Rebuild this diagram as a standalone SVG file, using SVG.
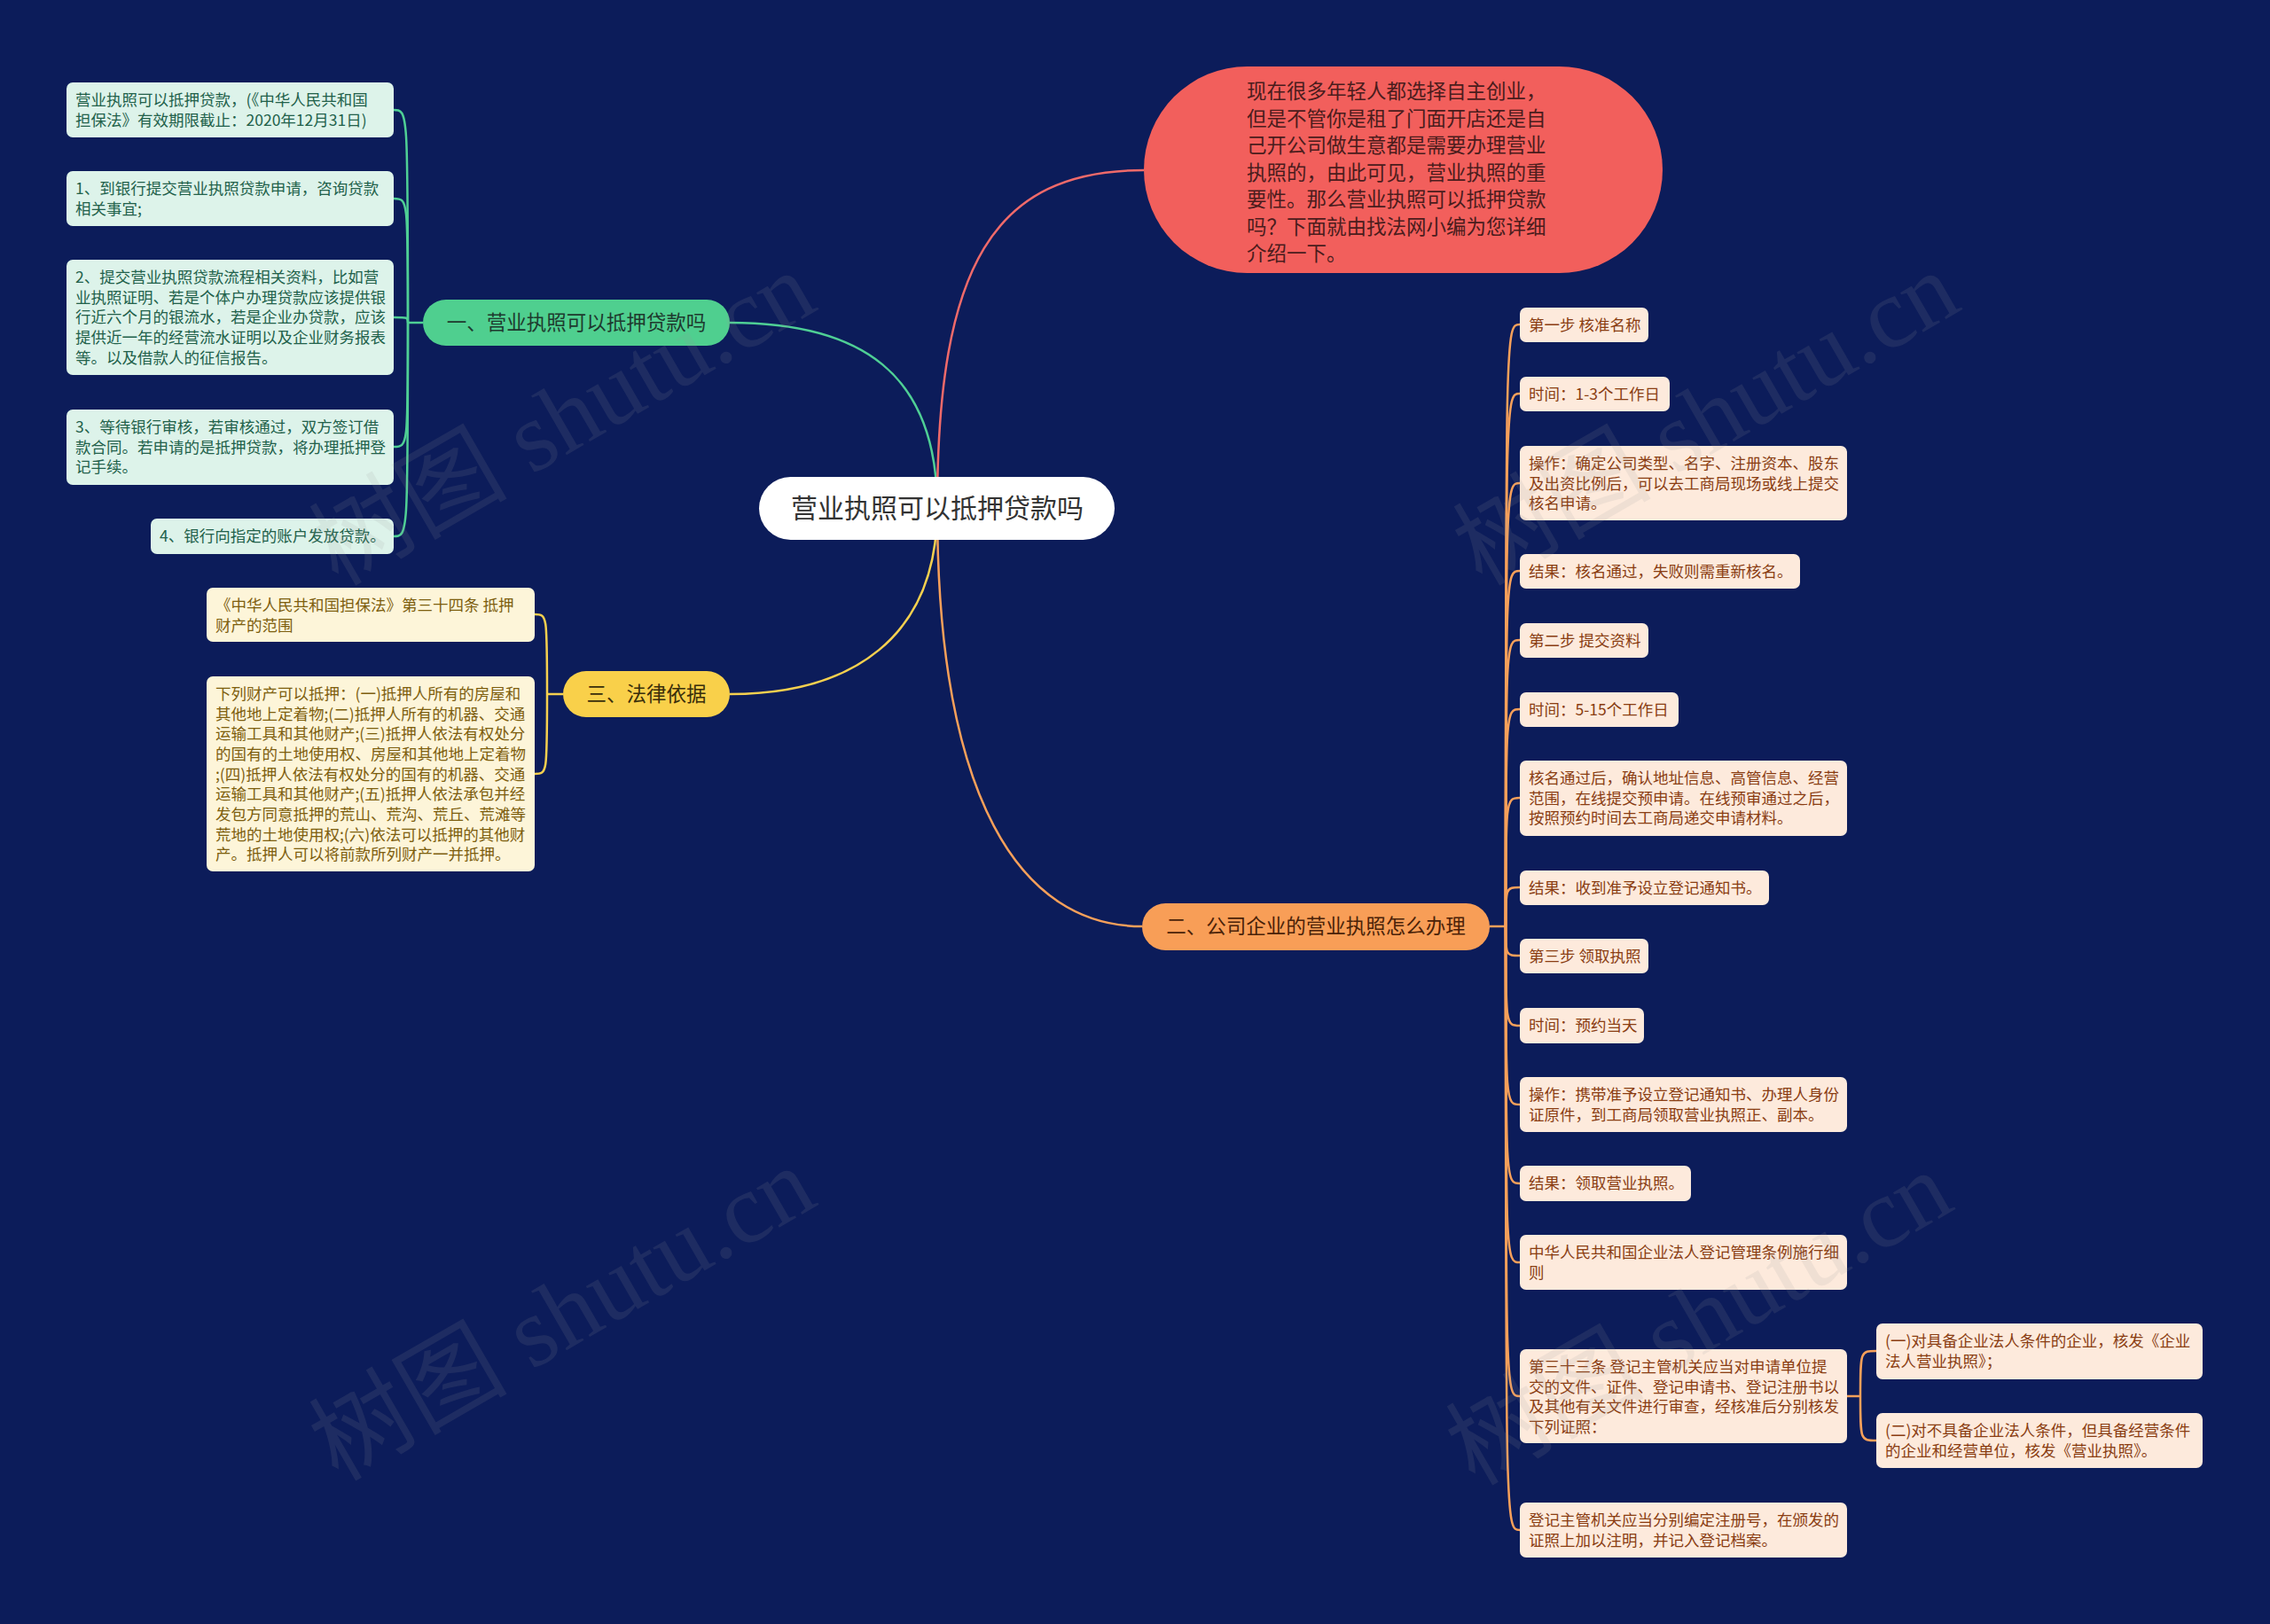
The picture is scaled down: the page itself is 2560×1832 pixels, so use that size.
<svg xmlns="http://www.w3.org/2000/svg" width="2560" height="1832" viewBox="0 0 2560 1832">
<style>
text{font-family:"Noto Sans CJK SC","Noto Sans",sans-serif}
.lf{font-size:17.5px}
.g rect{fill:#ddf3ea}
.g text{fill:#22614a}
.y rect{fill:#fdf5d9}
.y text{fill:#7d5e0e}
.o rect{fill:#fdeadc}
.o text{fill:#8a3d12}
.br{font-size:22.5px;text-anchor:middle}
.cg{fill:none;stroke:#4fcf95;stroke-width:2.5}
.cy{fill:none;stroke:#f5d04f;stroke-width:2.5}
.co{fill:none;stroke:#f7a05a;stroke-width:2.5}
.cr{fill:none;stroke:#f06a6a;stroke-width:2.5}
.wm{font-family:"Liberation Serif","Noto Sans CJK SC",serif;font-size:112px;fill:#9a9a9a;opacity:0.13}
</style>
<rect width="2560" height="1832" fill="#0c1c5a"/>
<g id="connectors">
<path class="cg" d="M1057,573 C1057,420 970,364 823,364"/>
<path class="cr" d="M1057,573 C1057,300 1120,192 1290,192"/>
<path class="cy" d="M1057,573 C1057,720 960,783 823,783"/>
<path class="co" d="M1057,573 C1057,900 1150,1045 1288,1045"/>
<path class="cg" d="M477,364 L460,364"/>
<path class="cg" d="M460,364 C460,124 460,124 444,124"/>
<path class="cg" d="M460,364 C460,224 460,224 444,224"/>
<path class="cg" d="M460,364 C460,358 460,358 444,358"/>
<path class="cg" d="M460,364 C460,504 460,504 444,504"/>
<path class="cg" d="M460,364 C460,605 460,605 444,605"/>
<path class="cy" d="M635,783 L617,783"/>
<path class="cy" d="M617,783 C617,693 617,693 603,693"/>
<path class="cy" d="M617,783 C617,873 617,873 603,873"/>
<path class="co" d="M1680,1045 L1698,1045"/>
<path class="co" d="M1698,1045 C1698,366 1698,366 1714,366"/>
<path class="co" d="M1698,1045 C1698,444 1698,444 1714,444"/>
<path class="co" d="M1698,1045 C1698,545 1698,545 1714,545"/>
<path class="co" d="M1698,1045 C1698,644 1698,644 1714,644"/>
<path class="co" d="M1698,1045 C1698,722 1698,722 1714,722"/>
<path class="co" d="M1698,1045 C1698,800 1698,800 1714,800"/>
<path class="co" d="M1698,1045 C1698,900 1698,900 1714,900"/>
<path class="co" d="M1698,1045 C1698,1001 1698,1001 1714,1001"/>
<path class="co" d="M1698,1045 C1698,1078 1698,1078 1714,1078"/>
<path class="co" d="M1698,1045 C1698,1157 1698,1157 1714,1157"/>
<path class="co" d="M1698,1045 C1698,1246 1698,1246 1714,1246"/>
<path class="co" d="M1698,1045 C1698,1335 1698,1335 1714,1335"/>
<path class="co" d="M1698,1045 C1698,1424 1698,1424 1714,1424"/>
<path class="co" d="M1698,1045 C1698,1575 1698,1575 1714,1575"/>
<path class="co" d="M1698,1045 C1698,1726 1698,1726 1714,1726"/>
<path class="co" d="M2083,1575 L2098,1575"/>
<path class="co" d="M2098,1575 C2098,1524 2098,1524 2116,1524"/>
<path class="co" d="M2098,1575 C2098,1625 2098,1625 2116,1625"/>
</g>
<g id="root">
<rect x="856" y="538" width="401" height="71" rx="35.5" fill="#ffffff"/>
<text x="1057" y="584" font-size="30" text-anchor="middle" fill="#333333">营业执照可以抵押贷款吗</text>
</g>
<g id="intro">
<rect x="1290" y="75" width="585" height="233" rx="116.5" fill="#f25f5c"/>
<text font-size="22.5" fill="#4a1c1c">
<tspan x="1406" y="111">现在很多年轻人都选择自主创业，</tspan>
<tspan x="1406" y="141.5">但是不管你是租了门面开店还是自</tspan>
<tspan x="1406" y="172">己开公司做生意都是需要办理营业</tspan>
<tspan x="1406" y="202.5">执照的，由此可见，营业执照的重</tspan>
<tspan x="1406" y="233">要性。那么营业执照可以抵押贷款</tspan>
<tspan x="1406" y="263.5">吗？下面就由找法网小编为您详细</tspan>
<tspan x="1406" y="294">介绍一下。</tspan>
</text>
</g>
<g id="branch1">
<rect x="477" y="338" width="346" height="52" rx="26" fill="#4fcf8f"/>
<text class="br" x="650" y="372" fill="#1e3a2e">一、营业执照可以抵押贷款吗</text>
</g>
<g id="branch3">
<rect x="635" y="757" width="188" height="52" rx="26" fill="#f9d04a"/>
<text class="br" x="729" y="791" fill="#3a2e0a">三、法律依据</text>
</g>
<g id="branch2">
<rect x="1288" y="1019" width="392" height="53" rx="26.5" fill="#f89e57"/>
<text class="br" x="1484" y="1053" fill="#4a2208">二、公司企业的营业执照怎么办理</text>
</g>
<g id="g1" class="g"><rect x="75" y="93" width="369" height="62" rx="7"/><text class="lf"><tspan x="85" y="119">营业执照可以抵押贷款，(《中华人民共和国</tspan><tspan x="85" y="142">担保法》有效期限截止：2020年12月31日)</tspan></text></g>
<g id="g2" class="g"><rect x="75" y="193" width="369" height="62" rx="7"/><text class="lf"><tspan x="85" y="219">1、到银行提交营业执照贷款申请，咨询贷款</tspan><tspan x="85" y="242">相关事宜;</tspan></text></g>
<g id="g3" class="g"><rect x="75" y="293" width="369" height="130" rx="7"/><text class="lf"><tspan x="85" y="319">2、提交营业执照贷款流程相关资料，比如营</tspan><tspan x="85" y="342">业执照证明、若是个体户办理贷款应该提供银</tspan><tspan x="85" y="364">行近六个月的银流水，若是企业办贷款，应该</tspan><tspan x="85" y="387">提供近一年的经营流水证明以及企业财务报表</tspan><tspan x="85" y="410">等。以及借款人的征信报告。</tspan></text></g>
<g id="g4" class="g"><rect x="75" y="462" width="369" height="85" rx="7"/><text class="lf"><tspan x="85" y="488">3、等待银行审核，若审核通过，双方签订借</tspan><tspan x="85" y="511">款合同。若申请的是抵押贷款，将办理抵押登</tspan><tspan x="85" y="533">记手续。</tspan></text></g>
<g id="g5" class="g"><rect x="170" y="585" width="274" height="40" rx="7"/><text class="lf" x="180" y="611">4、银行向指定的账户发放贷款。</text></g>
<g id="y1" class="y"><rect x="233" y="663" width="370" height="61" rx="7"/><text class="lf"><tspan x="243" y="689">《中华人民共和国担保法》第三十四条 抵押</tspan><tspan x="243" y="712">财产的范围</tspan></text></g>
<g id="y2" class="y"><rect x="233" y="763" width="370" height="220" rx="7"/><text class="lf"><tspan x="243" y="789">下列财产可以抵押：(一)抵押人所有的房屋和</tspan><tspan x="243" y="812">其他地上定着物;(二)抵押人所有的机器、交通</tspan><tspan x="243" y="834">运输工具和其他财产;(三)抵押人依法有权处分</tspan><tspan x="243" y="857">的国有的土地使用权、房屋和其他地上定着物</tspan><tspan x="243" y="880">;(四)抵押人依法有权处分的国有的机器、交通</tspan><tspan x="243" y="902">运输工具和其他财产;(五)抵押人依法承包并经</tspan><tspan x="243" y="925">发包方同意抵押的荒山、荒沟、荒丘、荒滩等</tspan><tspan x="243" y="948">荒地的土地使用权;(六)依法可以抵押的其他财</tspan><tspan x="243" y="970">产。抵押人可以将前款所列财产一并抵押。</tspan></text></g>
<g id="o1" class="o"><rect x="1714" y="347" width="145" height="39" rx="7"/><text class="lf" x="1724" y="373">第一步 核准名称</text></g>
<g id="o2" class="o"><rect x="1714" y="425" width="169" height="39" rx="7"/><text class="lf" x="1724" y="451">时间：1-3个工作日</text></g>
<g id="o3" class="o"><rect x="1714" y="503" width="369" height="84" rx="7"/><text class="lf"><tspan x="1724" y="529">操作：确定公司类型、名字、注册资本、股东</tspan><tspan x="1724" y="552">及出资比例后，可以去工商局现场或线上提交</tspan><tspan x="1724" y="574">核名申请。</tspan></text></g>
<g id="o4" class="o"><rect x="1714" y="625" width="316" height="39" rx="7"/><text class="lf" x="1724" y="651">结果：核名通过，失败则需重新核名。</text></g>
<g id="o5" class="o"><rect x="1714" y="703" width="145" height="39" rx="7"/><text class="lf" x="1724" y="729">第二步 提交资料</text></g>
<g id="o6" class="o"><rect x="1714" y="781" width="179" height="39" rx="7"/><text class="lf" x="1724" y="807">时间：5-15个工作日</text></g>
<g id="o7" class="o"><rect x="1714" y="858" width="369" height="85" rx="7"/><text class="lf"><tspan x="1724" y="884">核名通过后，确认地址信息、高管信息、经营</tspan><tspan x="1724" y="907">范围，在线提交预申请。在线预审通过之后，</tspan><tspan x="1724" y="929">按照预约时间去工商局递交申请材料。</tspan></text></g>
<g id="o8" class="o"><rect x="1714" y="982" width="281" height="39" rx="7"/><text class="lf" x="1724" y="1008">结果：收到准予设立登记通知书。</text></g>
<g id="o9" class="o"><rect x="1714" y="1059" width="145" height="39" rx="7"/><text class="lf" x="1724" y="1085">第三步 领取执照</text></g>
<g id="o10" class="o"><rect x="1714" y="1137" width="140" height="40" rx="7"/><text class="lf" x="1724" y="1163">时间：预约当天</text></g>
<g id="o11" class="o"><rect x="1714" y="1215" width="369" height="62" rx="7"/><text class="lf"><tspan x="1724" y="1241">操作：携带准予设立登记通知书、办理人身份</tspan><tspan x="1724" y="1264">证原件，到工商局领取营业执照正、副本。</tspan></text></g>
<g id="o12" class="o"><rect x="1714" y="1315" width="193" height="40" rx="7"/><text class="lf" x="1724" y="1341">结果：领取营业执照。</text></g>
<g id="o13" class="o"><rect x="1714" y="1393" width="369" height="62" rx="7"/><text class="lf"><tspan x="1724" y="1419">中华人民共和国企业法人登记管理条例施行细</tspan><tspan x="1724" y="1442">则</tspan></text></g>
<g id="o14" class="o"><rect x="1714" y="1522" width="369" height="106" rx="7"/><text class="lf"><tspan x="1724" y="1548">第三十三条 登记主管机关应当对申请单位提</tspan><tspan x="1724" y="1571">交的文件、证件、登记申请书、登记注册书以</tspan><tspan x="1724" y="1593">及其他有关文件进行审查，经核准后分别核发</tspan><tspan x="1724" y="1616">下列证照：</tspan></text></g>
<g id="o15" class="o"><rect x="1714" y="1695" width="369" height="62" rx="7"/><text class="lf"><tspan x="1724" y="1721">登记主管机关应当分别编定注册号，在颁发的</tspan><tspan x="1724" y="1744">证照上加以注明，并记入登记档案。</tspan></text></g>
<g id="o14a" class="o"><rect x="2116" y="1493" width="368" height="63" rx="7"/><text class="lf"><tspan x="2126" y="1519">(一)对具备企业法人条件的企业，核发《企业</tspan><tspan x="2126" y="1542">法人营业执照》；</tspan></text></g>
<g id="o14b" class="o"><rect x="2116" y="1594" width="368" height="62" rx="7"/><text class="lf"><tspan x="2126" y="1620">(二)对不具备企业法人条件，但具备经营条件</tspan><tspan x="2126" y="1643">的企业和经营单位，核发《营业执照》。</tspan></text></g>
<g id="watermarks">
<text class="wm" transform="translate(653,505) rotate(-30)" text-anchor="middle">树图 shutu.cn</text>
<text class="wm" transform="translate(1943,505) rotate(-30)" text-anchor="middle">树图 shutu.cn</text>
<text class="wm" transform="translate(653,1515) rotate(-30)" text-anchor="middle">树图 shutu.cn</text>
<text class="wm" transform="translate(1935,1520) rotate(-30)" text-anchor="middle">树图 shutu.cn</text>
</g>
</svg>
